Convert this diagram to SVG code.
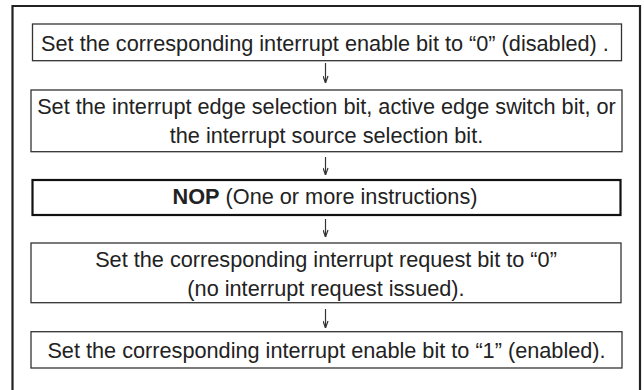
<svg xmlns="http://www.w3.org/2000/svg" width="644" height="390" viewBox="0 0 644 390">
<defs>
<style>
.box{fill:#fff;stroke:#333;stroke-width:1.3}
.boxb{fill:#fff;stroke:#111;stroke-width:2.2}
.t{font-family:"Liberation Sans",Arial,sans-serif;font-size:21.7px;fill:#222;text-anchor:middle}
.b{font-weight:bold}
.c{stroke:#333;stroke-width:1.2;fill:none;marker-end:url(#ah)}
</style>
<marker id="ah" viewBox="0 0 10 6" refX="10" refY="3" markerWidth="10" markerHeight="6" markerUnits="userSpaceOnUse" orient="auto">
<path d="M3 0.5 L10 3 L3 5.5" fill="none" stroke="#333" stroke-width="1.2"/>
</marker>
</defs>
<rect width="644" height="390" fill="#fff"/>
<path d="M12.5 395 V6 H640 V395" fill="none" stroke="#222" stroke-width="2.2"/>
<g id="n1">
<rect class="box" x="32.5" y="24" width="589" height="36.7"/>
<text class="t" x="325" y="50.5">Set the corresponding interrupt enable bit to “0” (disabled) .</text>
</g>
<g id="n2">
<rect class="box" x="31" y="90" width="591" height="61.7"/>
<text class="t" x="326.5" y="113.5">Set the interrupt edge selection bit, active edge switch bit, or</text>
<text class="t" x="326.5" y="143">the interrupt source selection bit.</text>
</g>
<g id="n3">
<rect class="boxb" x="32.5" y="180" width="588" height="35"/>
<text class="t" x="325" y="204"><tspan class="b">NOP</tspan> (One or more instructions)</text>
</g>
<g id="n4">
<rect class="box" x="31" y="243" width="590" height="59.7"/>
<text class="t" x="326" y="266.5">Set the corresponding interrupt request bit to “0”</text>
<text class="t" x="326" y="296">(no interrupt request issued).</text>
</g>
<g id="n5">
<rect class="box" x="31" y="331.7" width="591" height="36.3"/>
<text class="t" x="326.5" y="358.2">Set the corresponding interrupt enable bit to “1” (enabled).</text>
</g>
<g id="connectors">
<path class="c" d="M325.5 63 V83"/>
<path class="c" d="M325.5 157 V175"/>
<path class="c" d="M325.5 219 V237"/>
<path class="c" d="M325.5 309 V328"/>
</g>
</svg>
